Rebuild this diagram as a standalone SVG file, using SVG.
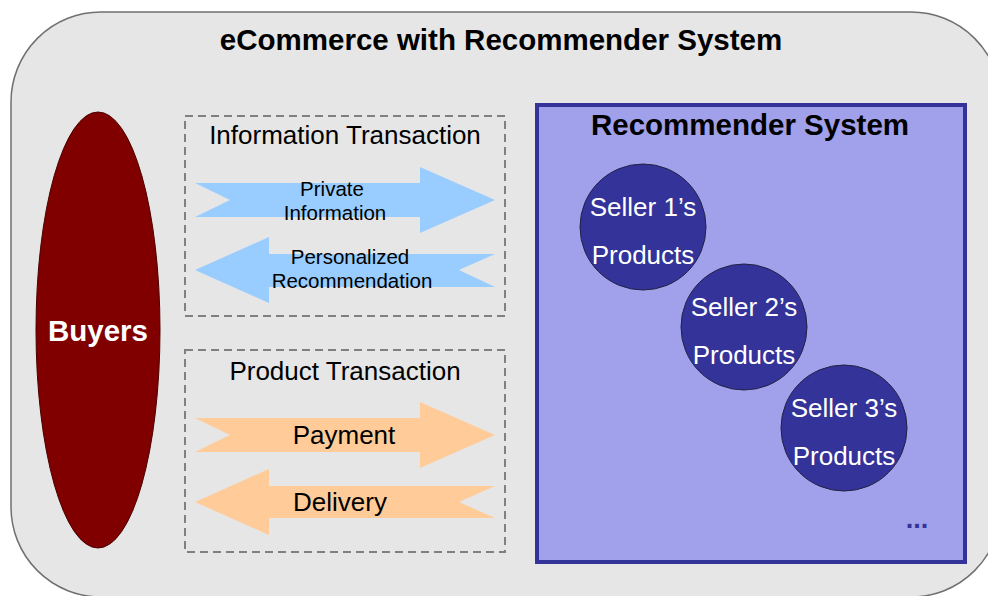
<svg xmlns="http://www.w3.org/2000/svg" width="988" height="596" viewBox="0 0 988 596">
<style>
text{font-family:"Liberation Sans",Arial,sans-serif;text-anchor:middle}
.t{font-weight:bold;font-size:29.5px;fill:#000}
.h{font-size:26px;fill:#000}
.s{font-size:20.5px;fill:#000}
.m{font-size:26px;fill:#000}
.c{font-size:26px;fill:#fff}
.dash{fill:none;stroke:#808080;stroke-width:2;stroke-dasharray:8,5}
.blue{fill:#99CCFF}
.orange{fill:#FFCC99}
.seller{fill:#333399;stroke:#222244;stroke-width:1}
</style>
<rect x="0" y="0" width="988" height="596" fill="#ffffff"/>
<g id="frame">
<rect x="11" y="12" width="990" height="585" rx="90" ry="90" fill="#E6E6E6" stroke="#707070" stroke-width="1.5"/>
<text class="t" x="501" y="50">eCommerce with Recommender System</text>
</g>
<g id="buyers">
<ellipse cx="98" cy="330" rx="62" ry="218" fill="#800000" stroke="#4a0000" stroke-width="1"/>
<text x="98" y="341" style="font-weight:bold;font-size:29.5px;fill:#fff">Buyers</text>
</g>
<g id="info-transaction">
<rect class="dash" x="185" y="116" width="320" height="200"/>
<text class="h" x="345" y="144">Information Transaction</text>
</g>
<g id="product-transaction">
<rect class="dash" x="185" y="350" width="320" height="202"/>
<text class="h" x="345" y="380">Product Transaction</text>
</g>
<g id="connectors">
<g id="private-information">
<polygon class="blue" points="195,183 420,183 420,167 495,200 420,233 420,217 195,217 230,200"/>
<text class="s" x="332" y="196">Private</text>
<text class="s" x="335" y="220">Information</text>
</g>
<g id="personalized-recommendation">
<polygon class="blue" points="195,270 269,237 269,254 495,254 459,270 495,287 269,287 269,303"/>
<text class="s" x="350" y="264">Personalized</text>
<text class="s" x="352" y="288">Recommendation</text>
</g>
<g id="payment">
<polygon class="orange" points="195,418 420,418 420,402 495,435 420,468 420,452 195,452 230,435"/>
<text class="m" x="344" y="444">Payment</text>
</g>
<g id="delivery">
<polygon class="orange" points="195,502 269,469 269,486 495,486 459,502 495,518 269,518 269,535"/>
<text class="m" x="340" y="511">Delivery</text>
</g>
</g>
<g id="recommender-system">
<rect x="537" y="105" width="428" height="457" fill="#A0A0EB" stroke="#333399" stroke-width="4"/>
<text class="t" x="750" y="135">Recommender System</text>
<text x="917" y="528" style="font-weight:bold;font-size:27px;fill:#333399">...</text>
</g>
<g id="seller1">
<circle class="seller" cx="643" cy="227" r="63"/>
<text class="c" x="643" y="216">Seller 1’s</text>
<text class="c" x="643" y="264">Products</text>
</g>
<g id="seller2">
<circle class="seller" cx="744" cy="327" r="63"/>
<text class="c" x="744" y="316">Seller 2’s</text>
<text class="c" x="744" y="364">Products</text>
</g>
<g id="seller3">
<circle class="seller" cx="844" cy="428" r="63"/>
<text class="c" x="844" y="417">Seller 3’s</text>
<text class="c" x="844" y="465">Products</text>
</g>
</svg>
